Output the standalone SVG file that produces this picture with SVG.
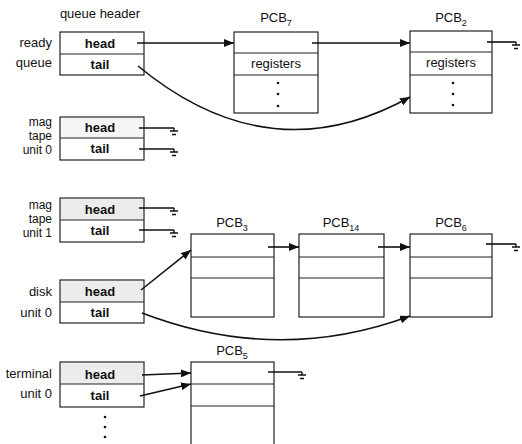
<svg xmlns="http://www.w3.org/2000/svg" width="522" height="444" viewBox="0 0 522 444">
<style>
  text { font-family: "Liberation Sans", Arial, sans-serif; font-size: 13px; fill: #111; }
  .lbl { text-anchor: end; }
  .sm { font-size: 12px; }
  .cell { text-anchor: middle; font-weight: bold; }
  .ctr { text-anchor: middle; }
  .box { fill: #fff; stroke: #222; stroke-width: 1.2; }
  .shade { fill: #ececec; stroke: none; }
  .div { stroke: #222; stroke-width: 1.2; fill: none; }
  .c { stroke: #111; stroke-width: 1.6; fill: none; }
  .arr { marker-end: url(#ah); }
  .gnd { stroke: #111; stroke-width: 1.4; fill: none; }
  .dot { fill: #111; }
</style>
<defs>
  <marker id="ah" viewBox="0 0 10 8" refX="10" refY="4" markerWidth="10" markerHeight="8" markerUnits="userSpaceOnUse" orient="auto">
    <path d="M0,0 L10,4 L0,8 Z" fill="#111"/>
  </marker>
</defs>

<text x="100" y="18" class="ctr">queue header</text>

<g id="ready-queue">
  <rect class="box" x="60" y="32" width="84" height="43"/>
  <line class="div" x1="60" y1="54" x2="144" y2="54"/>
  <text x="52" y="47" class="lbl">ready</text>
  <text x="52" y="67" class="lbl">queue</text>
  <text x="100" y="48" class="cell">head</text>
  <text x="100" y="69" class="cell">tail</text>
</g>

<g id="mag-tape-0">
  <rect class="box" x="60" y="117" width="84" height="43"/>
  <rect class="shade" x="61" y="118" width="82" height="20" fill-opacity="0.5"/>
  <line class="div" x1="60" y1="138" x2="144" y2="138"/>
  <text x="52" y="126" class="lbl sm">mag</text>
  <text x="52" y="140" class="lbl sm">tape</text>
  <text x="52" y="154" class="lbl sm">unit 0</text>
  <text x="100" y="132" class="cell">head</text>
  <text x="100" y="153" class="cell">tail</text>
</g>

<g id="mag-tape-1">
  <rect class="box" x="60" y="198" width="84" height="44"/>
  <rect class="shade" x="61" y="199" width="82" height="21"/>
  <line class="div" x1="60" y1="220" x2="144" y2="220"/>
  <text x="52" y="209" class="lbl sm">mag</text>
  <text x="52" y="223" class="lbl sm">tape</text>
  <text x="52" y="237" class="lbl sm">unit 1</text>
  <text x="100" y="214" class="cell">head</text>
  <text x="100" y="235" class="cell">tail</text>
</g>

<g id="disk-0">
  <rect class="box" x="60" y="280" width="84" height="43"/>
  <rect class="shade" x="61" y="281" width="82" height="21"/>
  <line class="div" x1="60" y1="302" x2="144" y2="302"/>
  <text x="52" y="296" class="lbl">disk</text>
  <text x="52" y="317" class="lbl">unit 0</text>
  <text x="100" y="296" class="cell">head</text>
  <text x="100" y="317" class="cell">tail</text>
</g>

<g id="terminal-0">
  <rect class="box" x="60" y="362" width="84" height="45"/>
  <rect class="shade" x="61" y="363" width="82" height="21" fill="#e4e4e4"/>
  <line class="div" x1="60" y1="384" x2="144" y2="384"/>
  <text x="52" y="378" class="lbl">terminal</text>
  <text x="52" y="398" class="lbl">unit 0</text>
  <text x="100" y="379" class="cell">head</text>
  <text x="100" y="400" class="cell">tail</text>
  <circle class="dot" cx="105" cy="417" r="1.3"/>
  <circle class="dot" cx="105" cy="427" r="1.3"/>
  <circle class="dot" cx="105" cy="437" r="1.3"/>
</g>

<g id="pcb7">
  <text x="276" y="22" class="ctr">PCB<tspan font-size="9" dy="4">7</tspan></text>
  <rect class="box" x="234" y="32" width="84" height="81"/>
  <line class="div" x1="234" y1="53" x2="318" y2="53"/>
  <line class="div" x1="234" y1="75" x2="318" y2="75"/>
  <text x="276" y="68" class="ctr">registers</text>
  <circle class="dot" cx="278" cy="83" r="1.3"/>
  <circle class="dot" cx="278" cy="94" r="1.3"/>
  <circle class="dot" cx="278" cy="106" r="1.3"/>
</g>

<g id="pcb2">
  <text x="451" y="22" class="ctr">PCB<tspan font-size="9" dy="4">2</tspan></text>
  <rect class="box" x="410" y="31" width="82" height="82"/>
  <line class="div" x1="410" y1="52" x2="492" y2="52"/>
  <line class="div" x1="410" y1="75" x2="492" y2="75"/>
  <text x="451" y="67" class="ctr">registers</text>
  <circle class="dot" cx="453" cy="83" r="1.3"/>
  <circle class="dot" cx="453" cy="94" r="1.3"/>
  <circle class="dot" cx="453" cy="105" r="1.3"/>
</g>

<g id="pcb3">
  <text x="232" y="227" class="ctr">PCB<tspan font-size="9" dy="4">3</tspan></text>
  <rect class="box" x="191" y="234" width="83" height="83"/>
  <line class="div" x1="191" y1="257" x2="274" y2="257"/>
  <line class="div" x1="191" y1="278" x2="274" y2="278"/>
</g>

<g id="pcb14">
  <text x="341" y="227" class="ctr">PCB<tspan font-size="9" dy="4">14</tspan></text>
  <rect class="box" x="299" y="234" width="85" height="83"/>
  <line class="div" x1="299" y1="257" x2="384" y2="257"/>
  <line class="div" x1="299" y1="278" x2="384" y2="278"/>
</g>

<g id="pcb6">
  <text x="451" y="227" class="ctr">PCB<tspan font-size="9" dy="4">6</tspan></text>
  <rect class="box" x="410" y="234" width="82" height="83"/>
  <line class="div" x1="410" y1="257" x2="492" y2="257"/>
  <line class="div" x1="410" y1="278" x2="492" y2="278"/>
</g>

<g id="pcb5">
  <text x="232" y="355" class="ctr">PCB<tspan font-size="9" dy="4">5</tspan></text>
  <rect class="box" x="191" y="362" width="83" height="90"/>
  <line class="div" x1="191" y1="384" x2="274" y2="384"/>
  <line class="div" x1="191" y1="406" x2="274" y2="406"/>
</g>

<g id="connectors">
  <line class="c arr" x1="137" y1="43" x2="234" y2="43"/>
  <line class="c arr" x1="312" y1="43" x2="410" y2="43"/>
  <path class="c arr" d="M138,66 Q270,175 410,97"/>
  <line class="c arr" x1="141" y1="290" x2="191" y2="250"/>
  <line class="c arr" x1="268" y1="247" x2="299" y2="247"/>
  <line class="c arr" x1="378" y1="247" x2="410" y2="247"/>
  <path class="c arr" d="M142,313 Q278,365 410,316"/>
  <line class="c arr" x1="142" y1="375" x2="191" y2="373"/>
  <line class="c arr" x1="140" y1="396" x2="191" y2="384"/>

  <path class="c" d="M487,42 H516"/>
  <path class="gnd" d="M516,42 V45 M512,45 H520 M514,48.5 H518"/>
  <path class="c" d="M139,128 H174"/>
  <path class="gnd" d="M174,128 V131 M170,131 H178 M172,134.5 H176"/>
  <path class="c" d="M139,149 H174"/>
  <path class="gnd" d="M174,149 V152 M170,152 H178 M172,155.5 H176"/>
  <path class="c" d="M139,208 H174"/>
  <path class="gnd" d="M174,208 V211 M170,211 H178 M172,214.5 H176"/>
  <path class="c" d="M139,230 H174"/>
  <path class="gnd" d="M174,230 V233 M170,233 H178 M172,236.5 H176"/>
  <path class="c" d="M486,244 H516"/>
  <path class="gnd" d="M516,244 V247 M512,247 H520 M514,250.5 H518"/>
  <path class="c" d="M268,372 H302"/>
  <path class="gnd" d="M302,372 V375 M298,375 H306 M300,378.5 H304"/>
</g>
</svg>
